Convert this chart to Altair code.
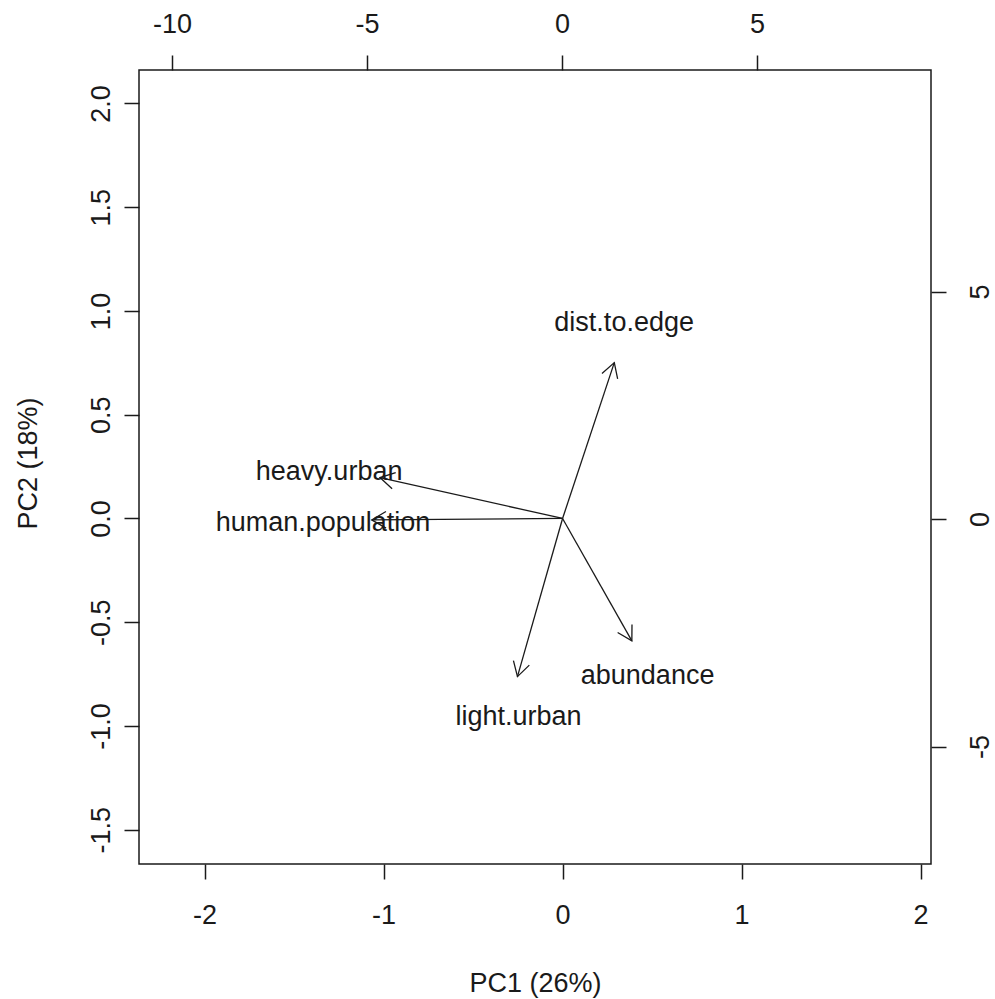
import math
import altair as alt
import pandas as pd

# ---- data ----
variables = ["dist.to.edge", "heavy.urban", "human.population", "abundance", "light.urban"]
tip_pc1 = [0.289, -1.020, -1.066, 0.387, -0.252]
tip_pc2 = [0.751, 0.197, -0.007, -0.590, -0.762]
label_pc1 = [0.344, -1.304, -1.338, 0.475, -0.246]
label_pc2 = [0.942, 0.226, -0.022, -0.759, -0.955]

pc1_ticks = [-2, -1, 0, 1, 2]
pc2_ticks = [-1.5, -1.0, -0.5, 0.0, 0.5, 1.0, 1.5, 2.0]
top_ticks = [-10, -5, 0, 5]
right_ticks = [-5, 0, 5]

pc1_domain = [-2.366, 2.058]
pc2_domain = [-1.665, 2.161]
top_domain = [-10.846, 9.462]
right_domain = [-7.582, 9.868]

W, H = 792, 794
FONT = "Liberation Sans"
FS = 27
INK = "#1a1a1a"

px_x = W / (pc1_domain[1] - pc1_domain[0])
px_y = H / (pc2_domain[1] - pc2_domain[0])

df = pd.DataFrame({
    "variable": variables,
    "x0": [0.0] * len(variables),
    "y0": [0.0] * len(variables),
    "tx": tip_pc1,
    "ty": tip_pc2,
    "lx": label_pc1,
    "ly": label_pc2,
})
df["angle"] = [
    (math.degrees(math.atan2(x * px_x, y * px_y)) + 360) % 360
    for x, y in zip(df["tx"], df["ty"])
]

hy_int = "datum.value < 0 ? '-' + format(-datum.value, 'd') : format(datum.value, 'd')"
hy_1f = "datum.value < 0 ? '-' + format(-datum.value, '.1f') : format(datum.value, '.1f')"

common_axis = dict(
    grid=False, domain=False, ticks=True, tickSize=15, tickWidth=1.5, tickColor=INK,
    labelFont=FONT, labelFontSize=FS, labelColor=INK, labelOverlap=False, labelFlush=False,
    titleFont=FONT, titleFontSize=FS, titleColor=INK, titleFontWeight="normal",
)

x_axis = alt.Axis(
    orient="bottom", values=pc1_ticks, labelExpr=hy_int, labelPadding=23,
    labelBaseline="top", labelAlign="center",
    title="PC1 (26%)", titleX=W / 2, titleY=106, titleBaseline="top", titleAlign="center",
    **common_axis,
)
y_axis = alt.Axis(
    orient="left", values=pc2_ticks, labelExpr=hy_1f, labelPadding=9,
    labelAngle=270, labelAlign="center", labelBaseline="bottom",
    title="PC2 (18%)", titleX=-97, titleY=H / 2 - 4, titleAngle=270,
    titleBaseline="bottom", titleAlign="center",
    **common_axis,
)
x_scale = alt.Scale(domain=pc1_domain, nice=False, zero=False)
y_scale = alt.Scale(domain=pc2_domain, nice=False, zero=False)

base = alt.Chart(df)

shafts = base.mark_rule(color=INK, strokeWidth=1.3).encode(
    x=alt.X("x0:Q", scale=x_scale, axis=x_axis),
    y=alt.Y("y0:Q", scale=y_scale, axis=y_axis),
    x2="tx:Q",
    y2="ty:Q",
)

heads = base.mark_point(
    shape="M -0.5 0.866 L 0 0 L 0.5 0.866",
    filled=False, color=INK, strokeWidth=1.3, size=1089, opacity=1,
).encode(
    x=alt.X("tx:Q", scale=x_scale, axis=x_axis),
    y=alt.Y("ty:Q", scale=y_scale, axis=y_axis),
    angle=alt.Angle("angle:Q", scale=None),
)

labels = base.mark_text(
    font=FONT, fontSize=FS, color=INK, align="center", baseline="middle",
).encode(
    x=alt.X("lx:Q", scale=x_scale, axis=x_axis),
    y=alt.Y("ly:Q", scale=y_scale, axis=y_axis),
    text="variable:N",
)

primary = alt.layer(shafts, heads, labels)

sec_df = pd.DataFrame({"sx": [0.0], "sy": [0.0]})
secondary = alt.Chart(sec_df).mark_point(opacity=0).encode(
    x=alt.X("sx:Q", scale=alt.Scale(domain=top_domain, nice=False, zero=False),
            axis=alt.Axis(orient="top", values=top_ticks, labelExpr=hy_int, labelPadding=17,
                          labelBaseline="bottom", labelAlign="center", title=None,
                          **common_axis)),
    y=alt.Y("sy:Q", scale=alt.Scale(domain=right_domain, nice=False, zero=False),
            axis=alt.Axis(orient="right", values=right_ticks, labelExpr=hy_int, labelPadding=21,
                          labelAngle=270, labelAlign="center", labelBaseline="top", title=None,
                          **common_axis)),
)

chart = alt.layer(primary, secondary).resolve_scale(
    x="independent", y="independent"
).properties(
    width=W, height=H,
    autosize=alt.AutoSizeParams(type="none"),
    padding={"left": 139, "top": 70, "right": 64, "bottom": 135},
    background="white",
).configure_view(stroke=INK, strokeWidth=1.5)

chart.save("out.html", embed_options={"renderer": "svg", "actions": False})
